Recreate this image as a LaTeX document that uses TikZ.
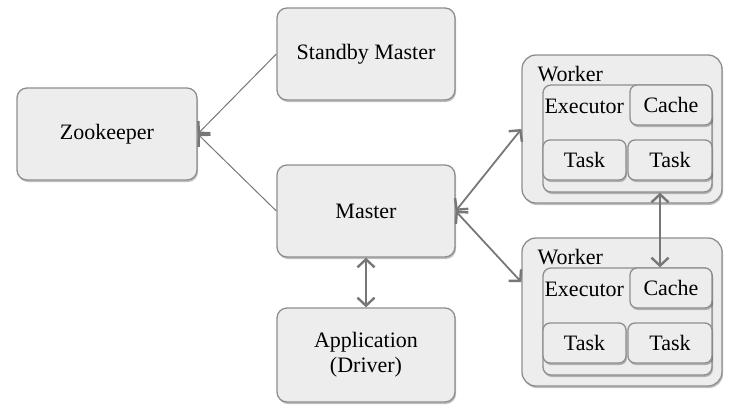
\documentclass[tikz,border=0pt]{standalone}
\usepackage{fontspec}
\setmainfont{Liberation Serif}
\usetikzlibrary{arrows.meta, calc, positioning, shadows}
\definecolor{boxfill}{HTML}{EDEDED}
\definecolor{boxline}{HTML}{8E8E8E}
\definecolor{linkgray}{HTML}{777777}
\tikzset{
  box/.style={draw=boxline, fill=boxfill, line width=1.3pt, rounded corners=10pt,
    align=center, inner sep=0pt, font=\fontsize{22}{25}\selectfont,
    drop shadow={shadow xshift=1pt, shadow yshift=-2pt, fill=black, opacity=0.25}},
  tag/.style={inner sep=0pt, anchor=base west, font=\fontsize{22}{25}\selectfont},
  barb/.tip={Straight Barb[length=8pt, width=17pt, line width=2.4pt]},
  link/.style={draw=linkgray, line width=1.8pt, barb-barb},
  thinlink/.style={draw=linkgray, line width=1pt, -barb}
}
\begin{document}
\begin{tikzpicture}[x=1pt, y=-1pt]
            \useasboundingbox (0,0) rectangle (736,413);
            % left and middle column
            \node[box, minimum width=180pt, minimum height=92pt] (zoo) at (107,134) {Zookeeper};
            \node[box, minimum width=178pt, minimum height=92pt] (standby) at (366,54) {Standby Master};
            \node[box, minimum width=178pt, minimum height=92pt] (master) at (366,211) {Master};
            \node[box, minimum width=178pt, minimum height=94pt] (app) at (366,355) {Application\\(Driver)};
            % workers
            \foreach \w/\yc in {1/129, 2/312} {
                \node[box, minimum width=200pt, minimum height=148pt, rounded corners=14pt] (worker\w) at (622,\yc) {};
                \node[tag] (wtag\w) at ([shift={(16,27)}]worker\w.north west) {Worker};
                \node[box, minimum width=169pt, minimum height=107pt, rounded corners=8pt] (exec\w) at ([shift={(5.5,9.5)}]worker\w.center) {};
                \node[tag] (etag\w) at ([shift={(2,29)}]exec\w.north west) {Executor};
                \node[box, minimum width=82pt, minimum height=40pt, rounded corners=7pt, anchor=north east] (cache\w) at (exec\w.north east) {Cache};
                \node[box, minimum width=83pt, minimum height=40pt, rounded corners=7pt, anchor=south west] (taska\w) at ([shift={(0,-12)}]exec\w.south west) {Task};
                \node[box, minimum width=84pt, minimum height=40pt, rounded corners=7pt, anchor=south east] (taskb\w) at ([shift={(0,-12)}]exec\w.south east) {Task};
            }
            % connectors
            \draw[thinlink] (standby.west) -- (zoo.east);
            \draw[thinlink] (master.west) -- (zoo.east);
            \draw[link] (master.east) -- (worker1.west);
            \draw[link] (master.east) -- ($(worker2.north west)!0.3!(worker2.south west)$);
            \draw[link] (master.south) -- (app.north);
            \draw[link] ([xshift=-11pt]cache2.north |- exec1.south) -- ([xshift=-11pt]cache2.north);
\end{tikzpicture}
\end{document}
